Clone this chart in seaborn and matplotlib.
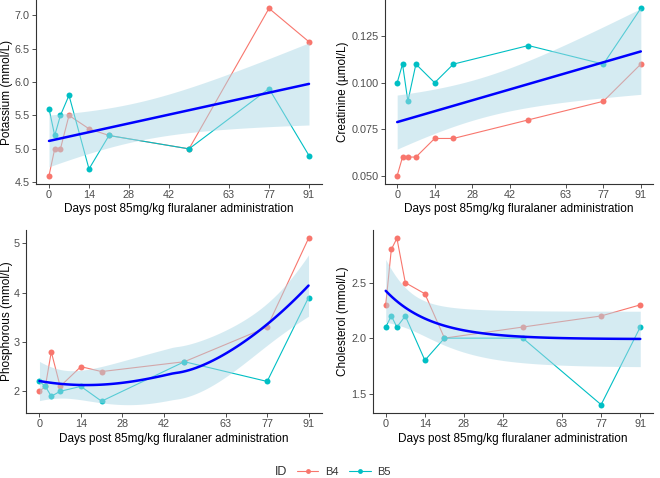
import numpy as np
import pandas as pd
import matplotlib
matplotlib.use("Agg")
import matplotlib.pyplot as plt
import matplotlib.transforms as mtransforms
import seaborn as sns
from matplotlib.lines import Line2D

sns.set_theme(style="ticks")
plt.rcParams['font.family'] = ['Liberation Sans', 'DejaVu Sans']

# data
days = [0, 2, 4, 7, 14, 21, 49, 77, 91]
ids = ['B4', 'B5']

potassium_b4 = [4.6, 5.0, 5.0, 5.5, 5.3, 5.2, 5.0, 7.1, 6.6]
potassium_b5 = [5.6, 5.2, 5.5, 5.8, 4.7, 5.2, 5.0, 5.9, 4.9]

creatinine_b4 = [0.05, 0.06, 0.06, 0.06, 0.07, 0.07, 0.08, 0.09, 0.11]
creatinine_b5 = [0.10, 0.11, 0.09, 0.11, 0.10, 0.11, 0.12, 0.11, 0.14]

phosphorous_b4 = [2.0, 2.1, 2.8, 2.1, 2.5, 2.4, 2.6, 3.3, 5.1]
phosphorous_b5 = [2.2, 2.1, 1.9, 2.0, 2.1, 1.8, 2.6, 2.2, 3.9]

cholesterol_b4 = [2.3, 2.8, 2.9, 2.5, 2.4, 2.0, 2.1, 2.2, 2.3]
cholesterol_b5 = [2.1, 2.2, 2.1, 2.2, 1.8, 2.0, 2.0, 1.4, 2.1]

x_ticks = [0, 14, 28, 42, 63, 77, 91]
palette = {'B4': '#F8766D', 'B5': '#00BFC4'}
XLABEL = 'Days post 85mg/kg fluralaner administration'


def t975(df):
    # Cornish-Fisher approximation of the 97.5% t quantile
    z = 1.959964
    return (z + (z**3 + z) / (4 * df)
            + (5 * z**5 + 16 * z**3 + 3 * z) / (96 * df**2)
            + (3 * z**7 + 19 * z**5 + 17 * z**3 - 15 * z) / (384 * df**3))


def basis_smooth(X, G, y, extra=0):
    # ordinary least squares on a basis, with 95% confidence band
    beta, *_ = np.linalg.lstsq(X, y, rcond=None)
    res = y - X @ beta
    dof = len(y) - X.shape[1] - extra
    s2 = res @ res / dof
    XtXi = np.linalg.inv(X.T @ X)
    se = np.sqrt(s2 * np.einsum('ij,jk,ik->i', G, XtXi, G))
    fit = G @ beta
    t = t975(dof)
    return fit, fit - t * se, fit + t * se


def lm_smooth(x, y, grid):
    X = np.column_stack([np.ones_like(x), x])
    G = np.column_stack([np.ones_like(grid), grid])
    return basis_smooth(X, G, y)


def decay_smooth(x, y, grid):
    # y ~ a + b * exp(-c * x), rate chosen by least squares
    best = None
    for c in np.linspace(0.002, 0.2, 400):
        X = np.column_stack([np.ones_like(x), np.exp(-c * x)])
        beta, *_ = np.linalg.lstsq(X, y, rcond=None)
        r = np.sum((y - X @ beta) ** 2)
        if best is None or r < best[0]:
            best = (r, c)
    c = best[1]
    X = np.column_stack([np.ones_like(x), np.exp(-c * x)])
    G = np.column_stack([np.ones_like(grid), np.exp(-c * grid)])
    return basis_smooth(X, G, y, extra=1)


def loess_rows(x, pts, span):
    n = len(x)
    rows = []
    for x0 in pts:
        d = np.abs(x - x0)
        if span <= 1:
            h = np.sort(d)[int(np.floor(n * span)) - 1]
        else:
            h = d.max() * span
        w = np.clip(1 - (d / h) ** 3, 0, None) ** 3
        X = np.column_stack([np.ones_like(x), x - x0, (x - x0) ** 2])
        rows.append((np.linalg.pinv(X.T @ (w[:, None] * X)) @ (X.T * w))[0])
    return np.array(rows)


def loess_smooth(x, y, grid, span=1.5):
    n = len(x)
    R = np.eye(n) - loess_rows(x, x, span)
    M = R.T @ R
    d1 = np.trace(M)
    d2 = np.trace(M @ M)
    sigma = np.sqrt(np.sum((R @ y) ** 2) / d1)
    Lg = loess_rows(x, grid, span)
    fit = Lg @ y
    se = sigma * np.sqrt(np.sum(Lg ** 2, axis=1))
    t = t975(d1 ** 2 / d2)
    return fit, fit - t * se, fit + t * se


panels = [
    ('Potassium (mmol/L)', potassium_b4, potassium_b5, lm_smooth, [4.5, 5.0, 5.5, 6.0, 6.5, 7.0], '%.1f'),
    ('Creatinine (µmol/L)', creatinine_b4, creatinine_b5, lm_smooth, [0.050, 0.075, 0.100, 0.125], '%.3f'),
    ('Phosphorous (mmol/L)', phosphorous_b4, phosphorous_b5, loess_smooth, [2, 3, 4, 5], '%d'),
    ('Cholesterol (mmol/L)', cholesterol_b4, cholesterol_b5, decay_smooth, [1.5, 2.0, 2.5], '%.1f'),
]

# panel boxes in pixels (left, top, right, bottom) and y-label right edge
boxes = [(36, 0, 322, 184, 13), (385, 0, 653, 184, 349),
         (26, 230, 322, 413, 13), (373, 230, 653, 413, 349)]
W_PX, H_PX = 660, 478

fig = plt.figure(figsize=(6.6, 4.78), dpi=100)

for (ylabel, b4, b5, smoother, yticks, fmt), (l, t, r, b, ylab_x) in zip(panels, boxes):
    ax = fig.add_axes([l / W_PX, 1 - b / H_PX, (r - l) / W_PX, (b - t) / H_PX])
    df = pd.DataFrame({
        'day': days + days,
        'value': b4 + b5,
        'ID': ['B4'] * len(days) + ['B5'] * len(days),
    })
    sns.lineplot(data=df, x='day', y='value', hue='ID', palette=palette,
                 marker='o', markersize=4.3, markeredgewidth=0, linewidth=0.8,
                 legend=False, ax=ax, zorder=2)

    x = df['day'].to_numpy(float)
    y = df['value'].to_numpy(float)
    grid = np.linspace(x.min(), x.max(), 80)
    fit, lo, hi = smoother(x, y, grid)
    ax.fill_between(grid, lo, hi, color='#ADD8E6', alpha=0.5, linewidth=0, zorder=3)
    ax.plot(grid, fit, color='#0000FF', linewidth=1.8, zorder=4)

    ax.set_xticks(x_ticks)
    ax.set_yticks(yticks)
    ax.yaxis.set_major_formatter(matplotlib.ticker.FormatStrFormatter(fmt))
    ax.set_xlabel(XLABEL, fontsize=8.5, color='black')
    ax.set_ylabel(ylabel, fontsize=8.5, color='black')
    ax.tick_params(labelsize=7.8, labelcolor='#4D4D4D', color='#333333',
                   length=3, width=0.6, pad=1.5)
    ax.xaxis.set_label_coords(0.5, 1 - (t + 203) / H_PX,
                              transform=mtransforms.blended_transform_factory(ax.transAxes, fig.transFigure))
    ax.yaxis.set_label_coords(ylab_x / W_PX, 0.5,
                              transform=mtransforms.blended_transform_factory(fig.transFigure, ax.transAxes))
    for side in ['left', 'bottom']:
        ax.spines[side].set_color('#333333')
        ax.spines[side].set_linewidth(0.8)
    sns.despine(ax=ax)
    ax.set_facecolor('white')

# legend at the bottom
fig.text(275 / W_PX, 6 / H_PX, 'ID', fontsize=9, color='#333333', va='center', ha='left')
handles = [Line2D([0], [0], color=palette[i], marker='o', markersize=3.5,
                  markeredgewidth=0, linewidth=0.8) for i in ids]
fig.legend(handles, ids, loc='center left', bbox_to_anchor=(297 / W_PX, 6 / H_PX),
           ncol=2, frameon=False, fontsize=8, handlelength=1.9,
           columnspacing=1.0, handletextpad=0.6, borderpad=0, borderaxespad=0,
           labelcolor='#333333')

fig.savefig('out.png', dpi=100)
